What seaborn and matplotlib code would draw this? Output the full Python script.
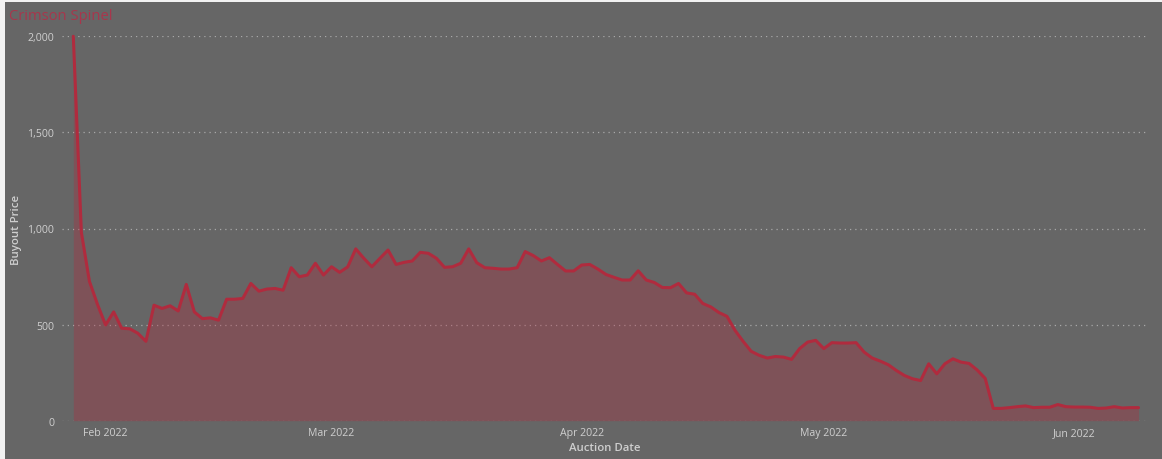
import matplotlib
matplotlib.use("Agg")
import matplotlib.pyplot as plt
import matplotlib.dates as mdates
from matplotlib.patches import Rectangle
from matplotlib.ticker import FuncFormatter, FixedLocator
import numpy as np
import pandas as pd
import seaborn as sns

# Daily average buyout price, starting 28 Jan 2022
start_date = "2022-01-28"
buyout_price = [
    2000, 980, 725, 605, 498, 566, 481, 478, 455, 413,
    601, 584, 598, 571, 709, 566, 531, 535, 523, 632,
    632, 636, 714, 674, 685, 688, 679, 796, 749, 758,
    819, 758, 801, 772, 800, 894, 845, 801, 845, 888,
    813, 824, 831, 876, 871, 845, 798, 801, 819, 894,
    822, 796, 793, 789, 789, 796, 880, 859, 831, 848,
    813, 779, 779, 810, 813, 789, 761, 746, 732, 732,
    780, 732, 719, 693, 692, 714, 665, 658, 610, 592,
    563, 543, 470, 413, 361, 340, 326, 334, 331, 319,
    375, 409, 418, 375, 406, 404, 404, 406, 357, 326,
    310, 291, 261, 235, 218, 209, 296, 244, 296, 322,
    305, 298, 264, 220, 64, 64, 68, 73, 77, 68,
    70, 70, 84, 73, 71, 71, 70, 64, 66, 73,
    66, 68, 68,
]
auction_date = pd.date_range(start_date, periods=len(buyout_price), freq="D")
y_ticks = [0, 500, 1000, 1500, 2000]
title_text = "Crimson Spinel"
x_title = "Auction Date"
y_title = "Buyout Price"

df = pd.DataFrame({"Auction Date": auction_date, "Buyout Price": buyout_price})

BG = "#666666"
LINE = "#B02B3E"
TEXT = "#CFCFCF"
GRID = "#A8A8A8"

sns.set_theme(style="dark")
plt.rcParams["font.family"] = ["Open Sans", "DejaVu Sans"]

fig = plt.figure(figsize=(11.62, 4.60), dpi=100, facecolor=BG)
W, H = 1162, 460
ax_left, ax_right, ax_top, ax_bottom = 62, 1147, 37.3, 421.7
ax = fig.add_axes([ax_left / W, 1 - ax_bottom / H,
                   (ax_right - ax_left) / W, (ax_bottom - ax_top) / H])
ax.set_facecolor(BG)

# thin light frame along the top and left edges of the card
fig.patches.append(Rectangle((0, 1 - 3 / H), 1, 3 / H, transform=fig.transFigure,
                             facecolor="#F2F2F2", edgecolor="none", zorder=0))
fig.patches.append(Rectangle((0, 0), 5 / W, 1, transform=fig.transFigure,
                             facecolor="#F2F2F2", edgecolor="none", zorder=0))

ax.fill_between(df["Auction Date"], df["Buyout Price"], 0,
                color=LINE, alpha=0.33, linewidth=0, zorder=2)
sns.lineplot(data=df, x="Auction Date", y="Buyout Price", ax=ax,
             color=LINE, linewidth=2.2, zorder=3, clip_on=False)

# axis ranges
x0 = mdates.date2num(pd.Timestamp(start_date))
ax.set_xlim(x0 - 1.4, x0 + 133.05)
ax.set_ylim(0, 2000)

# ticks
ax.xaxis.set_major_locator(mdates.MonthLocator())
ax.xaxis.set_major_formatter(mdates.DateFormatter("%b %Y"))
ax.yaxis.set_major_locator(FixedLocator(y_ticks))
ax.yaxis.set_major_formatter(FuncFormatter(lambda v, p: f"{v:,.0f}"))
ax.tick_params(axis="x", length=0, pad=4.5, labelsize=7.6, labelcolor=TEXT)
ax.tick_params(axis="y", length=0, pad=5.5, labelsize=7.6, labelcolor=TEXT)

ax.grid(False)
ax.yaxis.grid(True, color=GRID, linestyle=(0, (1, 3.2)), linewidth=0.9)
ax.set_axisbelow(True)
for s in ax.spines.values():
    s.set_visible(False)

ax.set_xlabel(x_title, fontsize=8.2, color=TEXT, fontweight="semibold", labelpad=3)
ax.set_ylabel(y_title, fontsize=8.2, color=TEXT, fontweight="semibold", labelpad=4)

fig.text(9 / W, 1 - 16.5 / H, title_text, color="#A8364C", fontsize=10.6,
         va="center", ha="left")

fig.savefig("out.png", dpi=100, facecolor=BG)
